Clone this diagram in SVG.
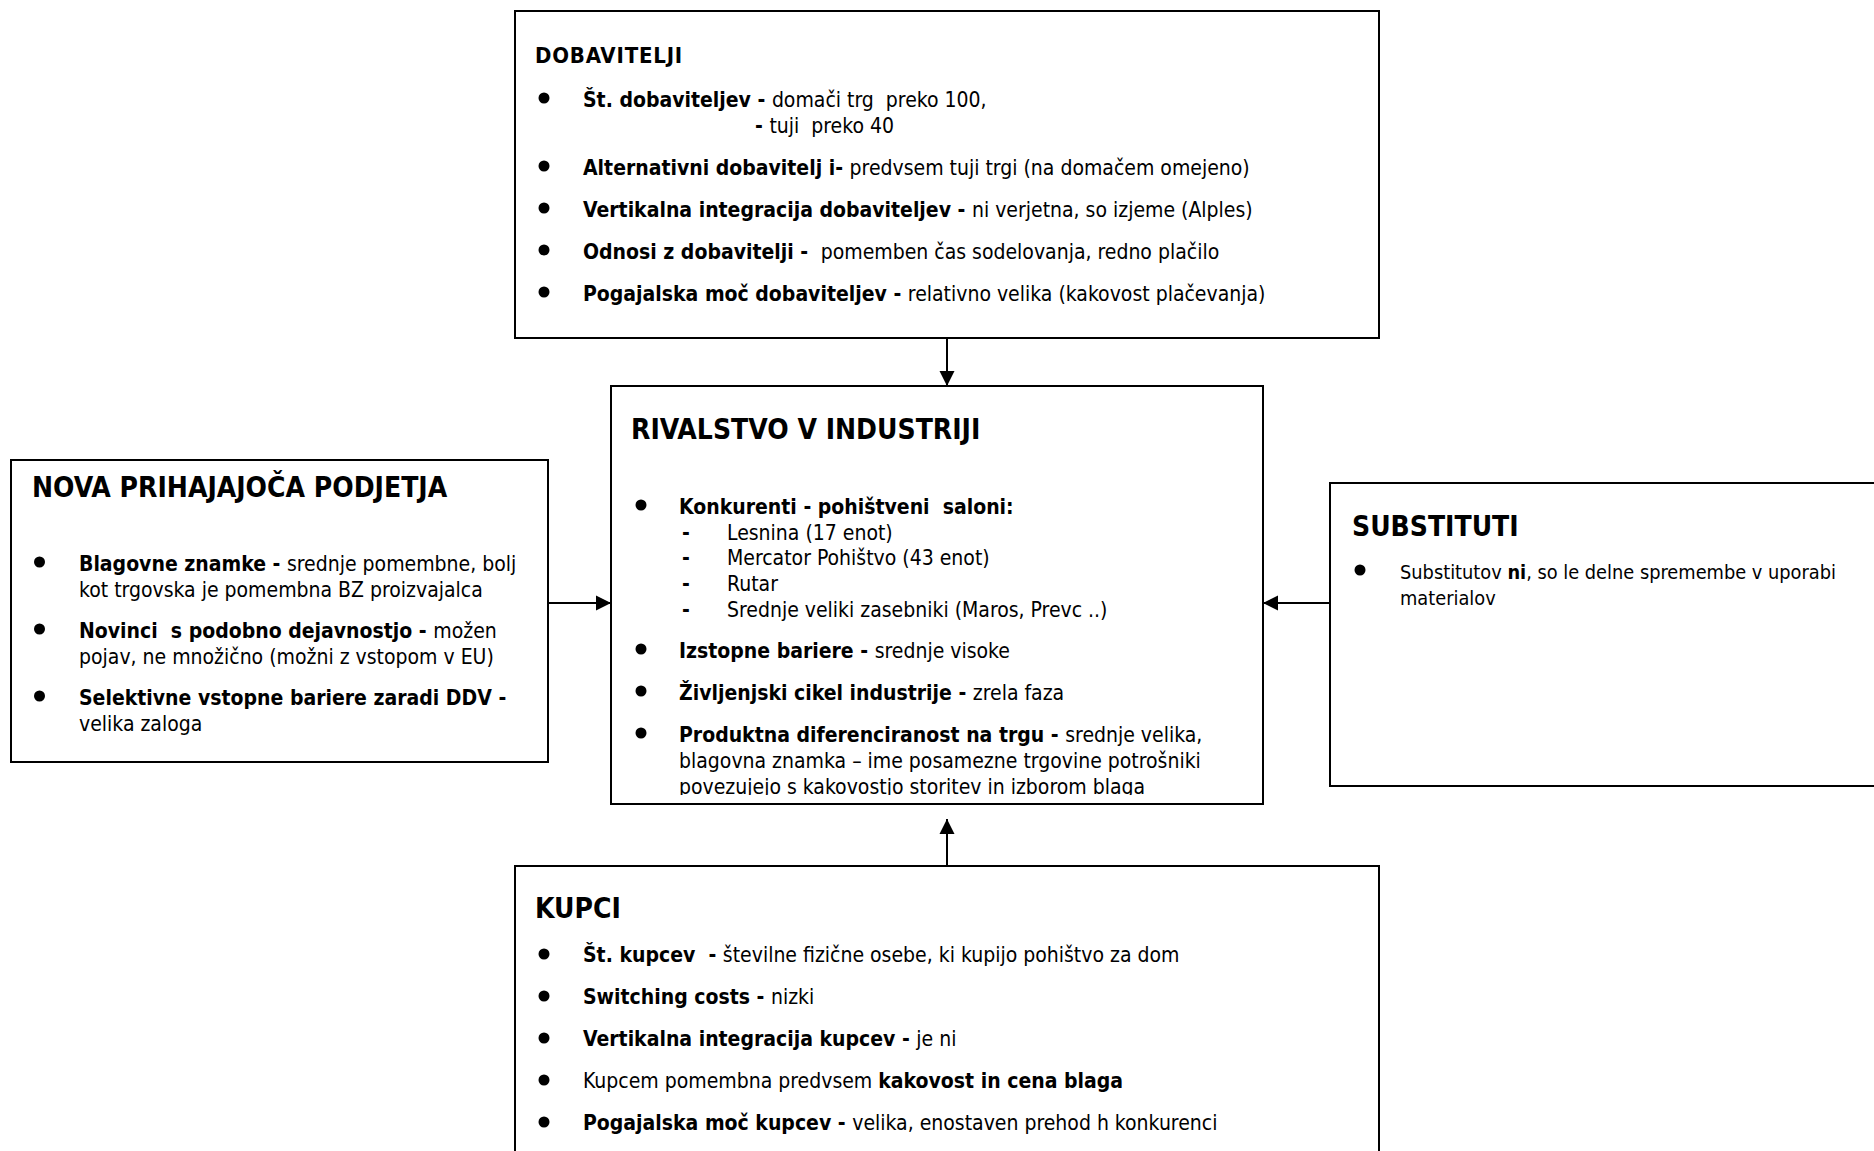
<svg xmlns="http://www.w3.org/2000/svg" width="1874" height="1151" viewBox="0 0 1874 1151">
<style>
text{font-family:"DejaVu Sans Condensed","DejaVu Sans","Liberation Sans",sans-serif;font-stretch:condensed;font-size:21px;fill:#000;white-space:pre}
.b{font-weight:bold}
.t{font-size:28px;font-weight:bold}
.h{font-size:22px;font-weight:bold;letter-spacing:0.8px}
.s{font-size:19.8px}
.box{fill:#fff;stroke:#000;stroke-width:2}
.bul{fill:#000}
.con{stroke:#000;stroke-width:2;fill:none}
</style>
<defs>
<marker id="ah" markerUnits="userSpaceOnUse" markerWidth="16" markerHeight="16" refX="15" refY="8" orient="auto">
<path d="M0,0.5 L15,8 L0,15.5 z" fill="#000"/>
</marker>
<clipPath id="cc"><rect x="611" y="386" width="652" height="409"/></clipPath>
</defs>
<rect width="1874" height="1151" fill="#fff"/>

<g id="connectors">
<line class="con" x1="947" y1="338" x2="947" y2="386" marker-end="url(#ah)"/>
<line class="con" x1="549" y1="603" x2="611" y2="603" marker-end="url(#ah)"/>
<line class="con" x1="1330" y1="603" x2="1263" y2="603" marker-end="url(#ah)"/>
<line class="con" x1="947" y1="866" x2="947" y2="819" marker-end="url(#ah)"/>
</g>

<g id="dobavitelji">
<rect class="box" x="515" y="11" width="864" height="327"/>
<text class="h" x="535" y="63">DOBAVITELJI</text>
<circle class="bul" cx="544" cy="98" r="5.5"/>
<text x="583" y="107"><tspan class="b">Št. dobaviteljev - </tspan>domači trg  preko 100,</text>
<text x="755" y="133"><tspan class="b">- </tspan>tuji  preko 40</text>
<circle class="bul" cx="544" cy="166" r="5.5"/>
<text x="583" y="175"><tspan class="b">Alternativni dobavitelj i- </tspan>predvsem tuji trgi (na domačem omejeno)</text>
<circle class="bul" cx="544" cy="208" r="5.5"/>
<text x="583" y="217"><tspan class="b">Vertikalna integracija dobaviteljev - </tspan>ni verjetna, so izjeme (Alples)</text>
<circle class="bul" cx="544" cy="250" r="5.5"/>
<text x="583" y="259"><tspan class="b">Odnosi z dobavitelji - </tspan> pomemben čas sodelovanja, redno plačilo</text>
<circle class="bul" cx="544" cy="292" r="5.5"/>
<text x="583" y="301"><tspan class="b">Pogajalska moč dobaviteljev - </tspan>relativno velika (kakovost plačevanja)</text>
</g>

<g id="nova-podjetja">
<rect class="box" x="11" y="460" width="537" height="302"/>
<text class="t" x="32" y="497">NOVA PRIHAJAJOČA PODJETJA</text>
<circle class="bul" cx="39.5" cy="562" r="5.5"/>
<text x="79" y="571"><tspan class="b">Blagovne znamke - </tspan>srednje pomembne, bolj</text>
<text x="79" y="597">kot trgovska je pomembna BZ proizvajalca</text>
<circle class="bul" cx="39.5" cy="629" r="5.5"/>
<text x="79" y="638"><tspan class="b">Novinci  s podobno dejavnostjo - </tspan>možen</text>
<text x="79" y="664">pojav, ne množično (možni z vstopom v EU)</text>
<circle class="bul" cx="39.5" cy="696" r="5.5"/>
<text class="b" x="79" y="705">Selektivne vstopne bariere zaradi DDV -</text>
<text x="79" y="731">velika zaloga</text>
</g>

<g id="rivalstvo">
<rect class="box" x="611" y="386" width="652" height="418"/>
<g clip-path="url(#cc)">
<text class="t" x="631" y="439">RIVALSTVO V INDUSTRIJI</text>
<circle class="bul" cx="641" cy="505" r="5.5"/>
<text class="b" x="679" y="514">Konkurenti - pohištveni  saloni:</text>
<text class="b" x="682" y="540">-</text><text x="727" y="540">Lesnina (17 enot)</text>
<text class="b" x="682" y="565">-</text><text x="727" y="565">Mercator Pohištvo (43 enot)</text>
<text class="b" x="682" y="591">-</text><text x="727" y="591">Rutar</text>
<text class="b" x="682" y="617">-</text><text x="727" y="617">Srednje veliki zasebniki (Maros, Prevc ..)</text>
<circle class="bul" cx="641" cy="649" r="5.5"/>
<text x="679" y="658"><tspan class="b">Izstopne bariere - </tspan>srednje visoke</text>
<circle class="bul" cx="641" cy="691" r="5.5"/>
<text x="679" y="700"><tspan class="b">Življenjski cikel industrije - </tspan>zrela faza</text>
<circle class="bul" cx="641" cy="733" r="5.5"/>
<text x="679" y="742"><tspan class="b">Produktna diferenciranost na trgu - </tspan>srednje velika,</text>
<text x="679" y="768">blagovna znamka – ime posamezne trgovine potrošniki</text>
<text x="679" y="794">povezujejo s kakovostjo storitev in izborom blaga</text>
</g>
</g>

<g id="substituti">
<rect class="box" x="1330" y="483" width="560" height="303"/>
<text class="t" x="1352" y="536">SUBSTITUTI</text>
<circle class="bul" cx="1360" cy="570" r="5.5"/>
<text class="s" x="1400" y="579">Substitutov <tspan class="b">ni</tspan>, so le delne spremembe v uporabi</text>
<text class="s" x="1400" y="605">materialov</text>
</g>

<g id="kupci">
<rect class="box" x="515" y="866" width="864" height="300"/>
<text class="t" x="535" y="918">KUPCI</text>
<circle class="bul" cx="544" cy="954" r="5.5"/>
<text x="583" y="962"><tspan class="b">Št. kupcev  - </tspan>številne fizične osebe, ki kupijo pohištvo za dom</text>
<circle class="bul" cx="544" cy="996" r="5.5"/>
<text x="583" y="1004"><tspan class="b">Switching costs - </tspan>nizki</text>
<circle class="bul" cx="544" cy="1038" r="5.5"/>
<text x="583" y="1046"><tspan class="b">Vertikalna integracija kupcev - </tspan>je ni</text>
<circle class="bul" cx="544" cy="1080" r="5.5"/>
<text x="583" y="1088">Kupcem pomembna predvsem <tspan class="b">kakovost in cena blaga</tspan></text>
<circle class="bul" cx="544" cy="1122" r="5.5"/>
<text x="583" y="1130"><tspan class="b">Pogajalska moč kupcev - </tspan>velika, enostaven prehod h konkurenci</text>
</g>
</svg>
